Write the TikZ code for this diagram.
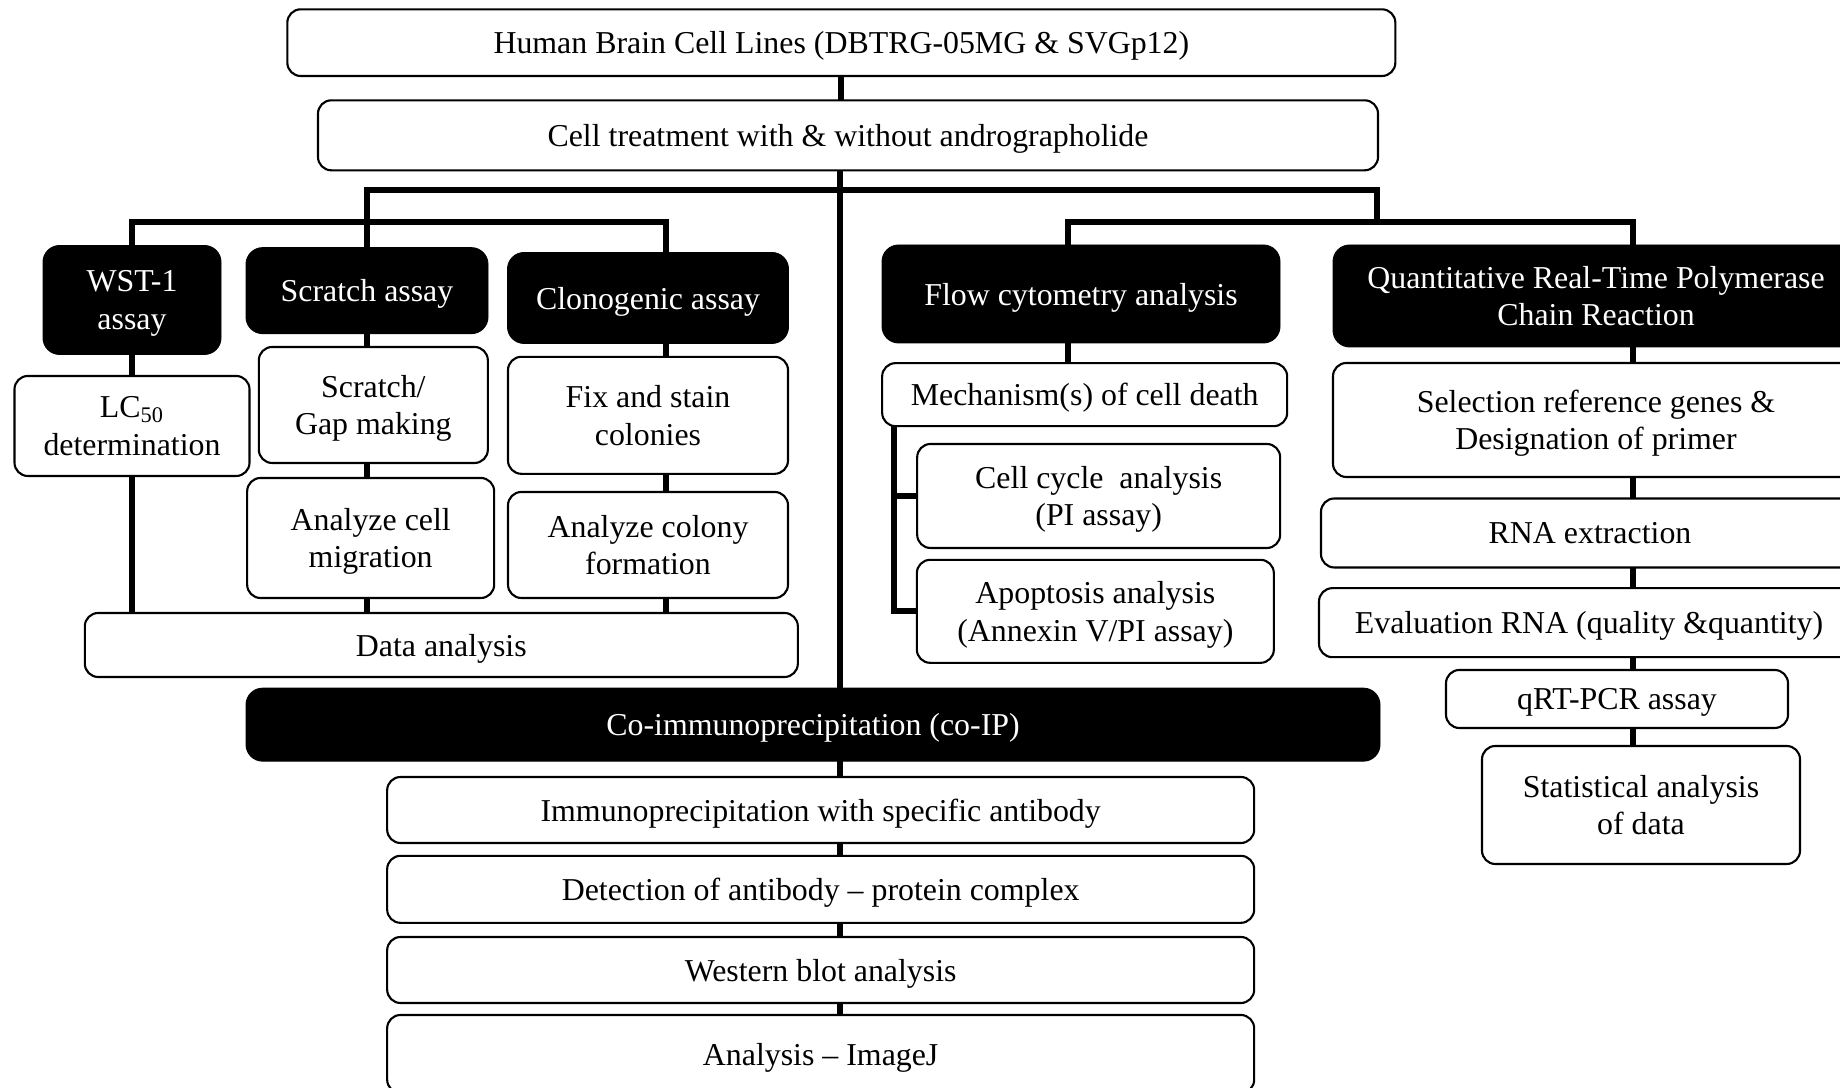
\documentclass[tikz,border=0pt]{standalone}
\usepackage{fontspec}
\setmainfont{Liberation Serif}
\usepackage{tikz}
\usetikzlibrary{backgrounds}
\pgfdeclarelayer{edgelayer}
\pgfdeclarelayer{nodelayer}
\pgfsetlayers{edgelayer,nodelayer,main}
\tikzstyle{none}=[inner sep=0pt]
\tikzstyle{headbox}=[rectangle,rounded corners=0.25cm,fill=black,draw=black,text=white,align=center,text depth=0pt,font={\fontsize{13.6}{16}\selectfont}]
\tikzstyle{taskbox}=[rectangle,rounded corners=0.2cm,fill=white,draw=black,line width=0.9pt,align=center,text depth=0pt,font={\fontsize{13.6}{16}\selectfont}]
\tikzstyle{link}=[-,line width=2.5pt,line cap=rect]
\begin{document}
\begin{tikzpicture}
	\useasboundingbox (0,0) rectangle (27.6,16.32);
	\begin{pgfonlayer}{nodelayer}
		\node [style=taskbox, minimum width=16.62cm, minimum height=1.0cm] (lines) at (12.62, 15.68) {Human Brain Cell Lines (DBTRG-05MG \& SVGp12)};
		\node [style=taskbox, minimum width=15.9cm, minimum height=1.05cm] (treat) at (12.72, 14.29) {Cell treatment with \& without andrographolide};

		\node [style=none] (tr) at (12.6, 13.47) {};
		\node [style=none] (b1l) at (5.505, 13.47) {};
		\node [style=none] (b1r) at (20.66, 13.47) {};
		\node [style=none] (b2l) at (1.98, 12.99) {};
		\node [style=none] (b2r) at (9.99, 12.99) {};
		\node [style=none] (b3l) at (16.02, 12.99) {};
		\node [style=none] (b3r) at (24.5, 12.99) {};

		\node [style=headbox, minimum width=2.67cm, minimum height=1.635cm] (wst) at (1.98, 11.82) {WST-1\\assay};
		\node [style=headbox, minimum width=3.63cm, minimum height=1.29cm] (scr) at (5.505, 11.96) {Scratch assay};
		\node [style=headbox, minimum width=4.215cm, minimum height=1.365cm] (clo) at (9.72, 11.85) {Clonogenic assay};
		\node [style=taskbox, minimum width=3.525cm, minimum height=1.5cm] (lc) at (1.98, 9.93) {LC\textsubscript{50}\\determination};
		\node [style=taskbox, minimum width=3.435cm, minimum height=1.74cm] (gap) at (5.6, 10.245) {Scratch/\\Gap making};
		\node [style=taskbox, minimum width=3.705cm, minimum height=1.8cm] (mig) at (5.56, 8.25) {Analyze cell\\migration};
		\node [style=taskbox, minimum width=4.2cm, minimum height=1.755cm] (fix) at (9.72, 10.09) {Fix and stain\\colonies};
		\node [style=taskbox, minimum width=4.2cm, minimum height=1.59cm] (col) at (9.72, 8.145) {Analyze colony\\formation};
		\node [style=taskbox, minimum width=10.695cm, minimum height=0.96cm] (data) at (6.62, 6.645) {Data analysis};

		\node [style=headbox, minimum width=5.97cm, minimum height=1.47cm] (flow) at (16.215, 11.91) {Flow cytometry analysis};
		\node [style=taskbox, minimum width=6.075cm, minimum height=0.945cm] (mech) at (16.27, 10.4) {Mechanism(s) of cell death};
		\node [style=none] (br) at (13.41, 9.93) {};
		\node [style=taskbox, minimum width=5.445cm, minimum height=1.56cm] (cyc) at (16.48, 8.88) {Cell cycle~ analysis\\(PI assay)};
		\node [style=taskbox, minimum width=5.355cm, minimum height=1.545cm] (apo) at (16.43, 7.15) {Apoptosis analysis\\(Annexin V/PI assay)};

		\node [style=headbox, minimum width=7.89cm, minimum height=1.53cm] (qrt) at (23.94, 11.88) {Quantitative Real-Time Polymerase\\Chain Reaction};
		\node [style=taskbox, minimum width=7.89cm, minimum height=1.71cm] (sel) at (23.94, 10.02) {Selection reference genes \&\\Designation of primer};
		\node [style=taskbox, minimum width=8.07cm, minimum height=1.035cm] (rna) at (23.85, 8.325) {RNA extraction};
		\node [style=taskbox, minimum width=8.1cm, minimum height=1.035cm] (eva) at (23.835, 6.98) {Evaluation RNA (quality \&quantity)};
		\node [style=taskbox, minimum width=5.13cm, minimum height=0.87cm] (pcr) at (24.255, 5.835) {qRT-PCR assay};
		\node [style=taskbox, minimum width=4.77cm, minimum height=1.77cm] (stat) at (24.615, 4.245) {Statistical analysis\\of data};

		\node [style=headbox, minimum width=17.01cm, minimum height=1.095cm] (coip) at (12.195, 5.45) {Co-immunoprecipitation (co-IP)};
		\node [style=taskbox, minimum width=13.005cm, minimum height=0.99cm] (imm) at (12.31, 4.17) {Immunoprecipitation with specific antibody};
		\node [style=taskbox, minimum width=13.005cm, minimum height=1.005cm] (det) at (12.31, 2.98) {Detection of antibody -- protein complex};
		\node [style=taskbox, minimum width=13.005cm, minimum height=0.99cm] (wb) at (12.31, 1.77) {Western blot analysis};
		\node [style=taskbox, minimum width=13.005cm, minimum height=1.17cm] (ij) at (12.31, 0.51) {Analysis -- ImageJ};
	\end{pgfonlayer}
	\begin{pgfonlayer}{edgelayer}
		\draw [style=link] (lines) to (lines |- treat.north);
		\draw [style=link] (treat.south -| tr) to (coip.north -| tr);
		\draw [style=link] (b1l.center) to (b1r.center);
		\draw [style=link] (b1l.center) to (b1l |- scr.north);
		\draw [style=link] (b2l.center) to (b2r.center);
		\draw [style=link] (b2l.center) to (b2l |- wst.north);
		\draw [style=link] (b2r.center) to (b2r |- clo.north);
		\draw [style=link] (b1r.center) to (b1r |- b3l);
		\draw [style=link] (b3l.center) to (b3r.center);
		\draw [style=link] (b3l.center) to (b3l |- flow.north);
		\draw [style=link] (b3r.center) to (b3r |- qrt.north);

		\draw [style=link] (wst) to (lc);
		\draw [style=link] (lc) to (lc |- data.north);
		\draw [style=link] (scr) to (scr |- gap.north);
		\draw [style=link] (gap.south -| scr) to (mig.north -| scr);
		\draw [style=link] (mig.south -| scr) to (data.north -| scr);
		\draw [style=link] (clo.south -| b2r) to (fix.north -| b2r);
		\draw [style=link] (fix.south -| b2r) to (col.north -| b2r);
		\draw [style=link] (col.south -| b2r) to (data.north -| b2r);

		\draw [style=link] (flow.south -| b3l) to (mech.north -| b3l);
		\draw [style=link] (br.center) |- (cyc.west);
		\draw [style=link] (br.center) |- (apo.west);

		\draw [style=link] (qrt.south -| b3r) to (sel.north -| b3r);
		\draw [style=link] (sel.south -| b3r) to (rna.north -| b3r);
		\draw [style=link] (rna.south -| b3r) to (eva.north -| b3r);
		\draw [style=link] (eva.south -| b3r) to (pcr.north -| b3r);
		\draw [style=link] (pcr.south -| b3r) to (stat.north -| b3r);

		\draw [style=link] (coip.south -| tr) to (imm.north -| tr);
		\draw [style=link] (imm.south -| tr) to (det.north -| tr);
		\draw [style=link] (det.south -| tr) to (wb.north -| tr);
		\draw [style=link] (wb.south -| tr) to (ij.north -| tr);
	\end{pgfonlayer}
\end{tikzpicture}
\end{document}
